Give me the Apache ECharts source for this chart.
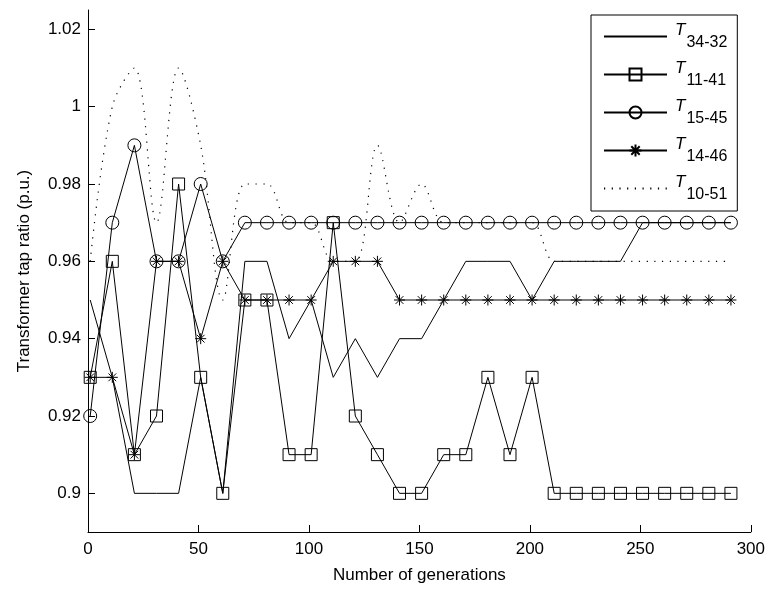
<!DOCTYPE html>
<html>
<head>
<meta charset="utf-8">
<script src="https://cdn.jsdelivr.net/npm/echarts@6/dist/echarts.min.js"></script>
<style>
html, body { margin: 0; padding: 0; background: #fff; }
#chart { width: 768px; height: 591px; }
</style>
</head>
<body>
<div id="chart"></div>
<script>
// generation numbers where the tap ratios were sampled
const generations = [1, 11, 21, 31, 41, 51, 61, 71, 81, 91, 101, 111, 121, 131, 141, 151, 161, 171, 181, 191, 201, 211, 221, 231, 241, 251, 261, 271, 281, 291]

const t3432 = [0.95, 0.93, 0.90, 0.90, 0.90, 0.93, 0.90, 0.96, 0.96, 0.94, 0.95, 0.93, 0.94, 0.93, 0.94, 0.94, 0.95, 0.96, 0.96, 0.96, 0.95, 0.96, 0.96, 0.96, 0.96, 0.97, 0.97, 0.97, 0.97, 0.97]
const t1141 = [0.93, 0.96, 0.91, 0.92, 0.98, 0.93, 0.90, 0.95, 0.95, 0.91, 0.91, 0.97, 0.92, 0.91, 0.90, 0.90, 0.91, 0.91, 0.93, 0.91, 0.93, 0.90, 0.90, 0.90, 0.90, 0.90, 0.90, 0.90, 0.90, 0.90]
const t1545 = [0.92, 0.97, 0.99, 0.96, 0.96, 0.98, 0.96, 0.97, 0.97, 0.97, 0.97, 0.97, 0.97, 0.97, 0.97, 0.97, 0.97, 0.97, 0.97, 0.97, 0.97, 0.97, 0.97, 0.97, 0.97, 0.97, 0.97, 0.97, 0.97, 0.97]
const t1446 = [0.93, 0.93, 0.91, 0.96, 0.96, 0.94, 0.96, 0.95, 0.95, 0.95, 0.95, 0.96, 0.96, 0.96, 0.95, 0.95, 0.95, 0.95, 0.95, 0.95, 0.95, 0.95, 0.95, 0.95, 0.95, 0.95, 0.95, 0.95, 0.95, 0.95]
const t1051 = [0.96, 1.00, 1.01, 0.97, 1.01, 0.99, 0.95, 0.98, 0.98, 0.97, 0.97, 0.96, 0.96, 0.99, 0.97, 0.98, 0.97, 0.97, 0.97, 0.97, 0.97, 0.96, 0.96, 0.96, 0.96, 0.96, 0.96, 0.96, 0.96, 0.96]

const yTicks = [0.9, 0.92, 0.94, 0.96, 0.98, 1, 1.02]

const FONT = "'Liberation Sans', Arial, sans-serif"
const asterisk = "path://M0,-10L0,10M-10,0L10,0M-7,-7L7,7M-7,7L7,-7"

const pts = (vals) => vals.map((v, i) => [generations[i], v])

const hollow = { color: "rgba(0,0,0,0)", borderColor: "#000", borderWidth: 1 }
const noMarker = { color: "rgba(0,0,0,0)", borderColor: "rgba(0,0,0,0)", borderWidth: 0 }

const chart = echarts.init(document.getElementById("chart"))

chart.setOption({
	animation: false,
	backgroundColor: "#fff",
	grid: { left: 88, right: 17, top: 10, bottom: 59 },
	legend: {
		orient: "vertical",
		left: 591,
		top: 15,
		padding: [7, 10, 8, 12],
		itemWidth: 63,
		itemHeight: 15,
		itemGap: 9,
		borderColor: "#000",
		borderWidth: 1,
		borderRadius: 0,
		backgroundColor: "#fff",
		selectedMode: false,
		data: [
			{ name: "T34-32", itemStyle: noMarker },
			{ name: "T11-41" },
			{ name: "T15-45" },
			{ name: "T14-46" },
			{ name: "T10-51", itemStyle: noMarker },
		],
		formatter: (name) => "{t|T}{s|" + name.slice(1) + "}",
		textStyle: {
			color: "#000",
			fontFamily: FONT,
			rich: {
				t: { fontStyle: "italic", fontSize: 17, fontFamily: FONT, color: "#000", padding: [0, 1, 12, 3] },
				s: { fontSize: 16, fontFamily: FONT, color: "#000", padding: [13, 0, 0, 0] },
			},
		},
	},
	xAxis: {
		type: "value",
		min: 0,
		max: 300,
		interval: 50,
		name: "Number of generations",
		nameLocation: "middle",
		nameGap: 35,
		nameTextStyle: { color: "#000", fontSize: 17, fontFamily: FONT },
		axisLine: { onZero: false, lineStyle: { color: "#000", width: 1 } },
		axisTick: { inside: true, length: 7, lineStyle: { color: "#000" } },
		axisLabel: { color: "#000", fontSize: 17, fontFamily: FONT, margin: 9 },
		splitLine: { show: false },
	},
	yAxis: {
		type: "value",
		min: 0.89,
		max: 1.025,
		name: "Transformer tap ratio (p.u.)",
		nameLocation: "middle",
		nameGap: 55,
		nameTextStyle: { color: "#000", fontSize: 17, fontFamily: FONT },
		axisLine: { show: true, lineStyle: { color: "#000", width: 1 } },
		axisTick: { show: true, inside: true, length: 7, customValues: yTicks, lineStyle: { color: "#000" } },
		axisLabel: {
			color: "#000",
			fontSize: 17,
			fontFamily: FONT,
			margin: 7,
			customValues: yTicks,
			formatter: (v) => String(Math.round(v * 100) / 100),
		},
		splitLine: { show: false },
	},
	series: [
		{
			name: "T34-32",
			type: "line",
			data: pts(t3432),
			symbol: "none",
			lineStyle: { color: "#000", width: 1 },
			itemStyle: { color: "#000" },
		},
		{
			name: "T11-41",
			type: "line",
			data: pts(t1141),
			symbol: "rect",
			symbolSize: 12,
			lineStyle: { color: "#000", width: 1 },
			itemStyle: hollow,
		},
		{
			name: "T15-45",
			type: "line",
			data: pts(t1545),
			symbol: "circle",
			symbolSize: 13,
			lineStyle: { color: "#000", width: 1 },
			itemStyle: hollow,
		},
		{
			name: "T14-46",
			type: "line",
			data: pts(t1446),
			symbol: asterisk,
			symbolSize: 11,
			lineStyle: { color: "#000", width: 1 },
			itemStyle: { color: "#000", borderColor: "#000", borderWidth: 1 },
		},
		{
			name: "T10-51",
			type: "line",
			data: pts(t1051),
			symbol: "none",
			smooth: 0.35,
			lineStyle: { color: "#000", width: 1.2, type: [1.2, 6.5] },
			itemStyle: { color: "#000" },
		},
	],
})

window.addEventListener("resize", () => chart.resize())
</script>
</body>
</html>
